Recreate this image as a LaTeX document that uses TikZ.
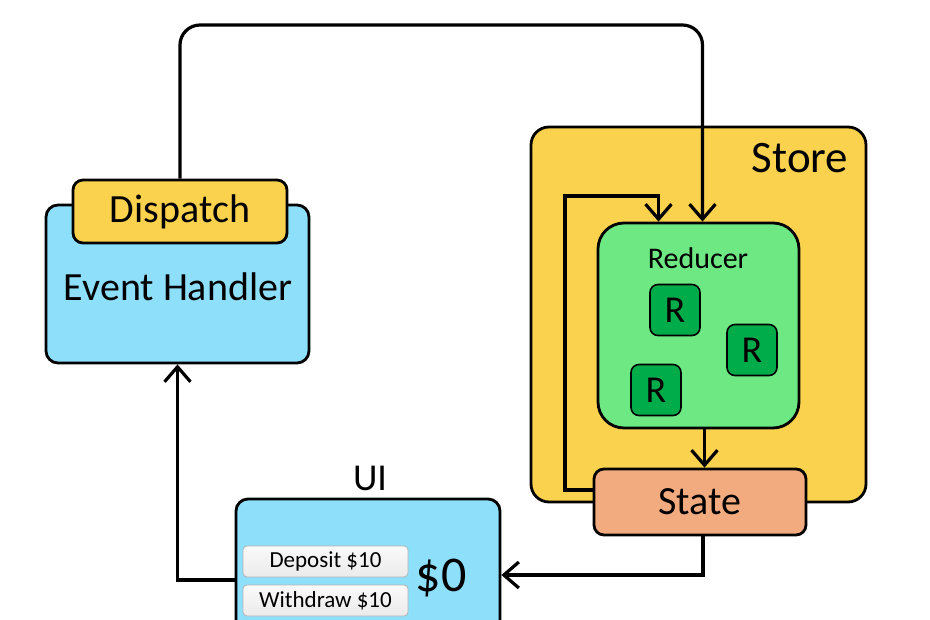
\documentclass[tikz,border=0pt]{standalone}
\usepackage{fontspec}
\setmainfont{Carlito}
\usetikzlibrary{arrows.meta}
\definecolor{uiblue}{HTML}{8EDFFA}
\definecolor{storeyellow}{HTML}{FAD24D}
\definecolor{redgreen}{HTML}{6DE882}
\definecolor{rgreen}{HTML}{00AB4A}
\definecolor{statesalmon}{HTML}{F2AB7F}
\definecolor{btnedge}{HTML}{B4B4B4}

\begin{document}
\begin{tikzpicture}[
		x=1pt, y=-1pt,
		box/.style={draw, line width=2.8pt, rounded corners=12pt, inner sep=0pt},
		flow/.style={draw, line width=3.2pt, -{Straight Barb[length=15pt, width=26pt, line width=3.2pt]}},
		btn/.style={draw=btnedge, line width=0.8pt, rounded corners=4pt, top color=white!96!gray, bottom color=white!84!gray, minimum width=165pt, minimum height=31pt, inner sep=0pt, font=\fontsize{23}{25}\selectfont},
		rbox/.style={box, line width=1.6pt, rounded corners=8pt, fill=rgreen, minimum width=50pt, minimum height=51pt, font=\fontsize{38}{40}\selectfont},
		txt/.style={inner sep=0pt}
	]
  \clip (0,0) rectangle (930,620);
  \fill[white] (0,0) rectangle (930,620);
  \node (store) [box, rounded corners=18pt, fill=storeyellow, minimum width=335pt, minimum height=375pt] at (698.5,314.5) {};
  \node (store_label) [txt, font=\fontsize{45}{48}\selectfont] at (800,158) {Store};
  \node (event_h) [box, fill=uiblue, minimum width=263pt, minimum height=158pt, font=\fontsize{40}{44}\selectfont] at (177.5,284) {};
  \node (event_label) [txt, font=\fontsize{40}{44}\selectfont] at (178,287) {Event Handler};
  \node (dispatch) [box, rounded corners=10pt, fill=storeyellow, minimum width=214pt, minimum height=63pt, font=\fontsize{40}{44}\selectfont] at (180,211.5) {Dispatch};
  \node (reducer) [box, rounded corners=26pt, fill=redgreen, minimum width=201pt, minimum height=205pt] at (698.5,325.5) {};
  \node (reducer_label) [txt, font=\fontsize{30}{32}\selectfont] at (698,258) {Reducer};
  \node (r_a) [rbox] at (675,310) {R};
  \node (r_b) [rbox] at (752,350) {R};
  \node (r_c) [rbox] at (656,390) {R};
  \node (state) [box, rounded corners=10pt, fill=statesalmon, minimum width=212pt, minimum height=66pt, font=\fontsize{40}{44}\selectfont] at (700,502) {State};
  \node (ui) [box, fill=uiblue, minimum width=264pt, minimum height=150pt] at (368,574) {};
  \node (ui_label) [txt, font=\fontsize{38}{40}\selectfont] at (370,478) {UI};
  \node (deposit) [btn] at (325.5,561.5) {Deposit \$10};
  \node (withdraw) [btn] at (325.5,600.5) {Withdraw \$10};
  \node (amount) [txt, font=\fontsize{50}{52}\selectfont] at (441,578) {\$0};
  \coordinate (top_turn) at (440,25);
  \coordinate (loop_corner) at (565,196);
  \draw[flow, rounded corners=20pt] (dispatch.north) |- (top_turn) -| ([xshift=4pt]reducer.north);
  \draw[flow] ([yshift=12pt]state.west) -| (loop_corner) -| ([xshift=-40pt]reducer.north);
  \draw[flow] ([xshift=6pt]reducer.south) -- ([xshift=6pt]reducer.south |- state.north);
  \draw[flow] ([xshift=3pt]state.south) |- ([yshift=-1pt]ui.east);
  \draw[flow] ([yshift=-6pt]ui.west) -| (event_h.south);
\end{tikzpicture}
\end{document}
